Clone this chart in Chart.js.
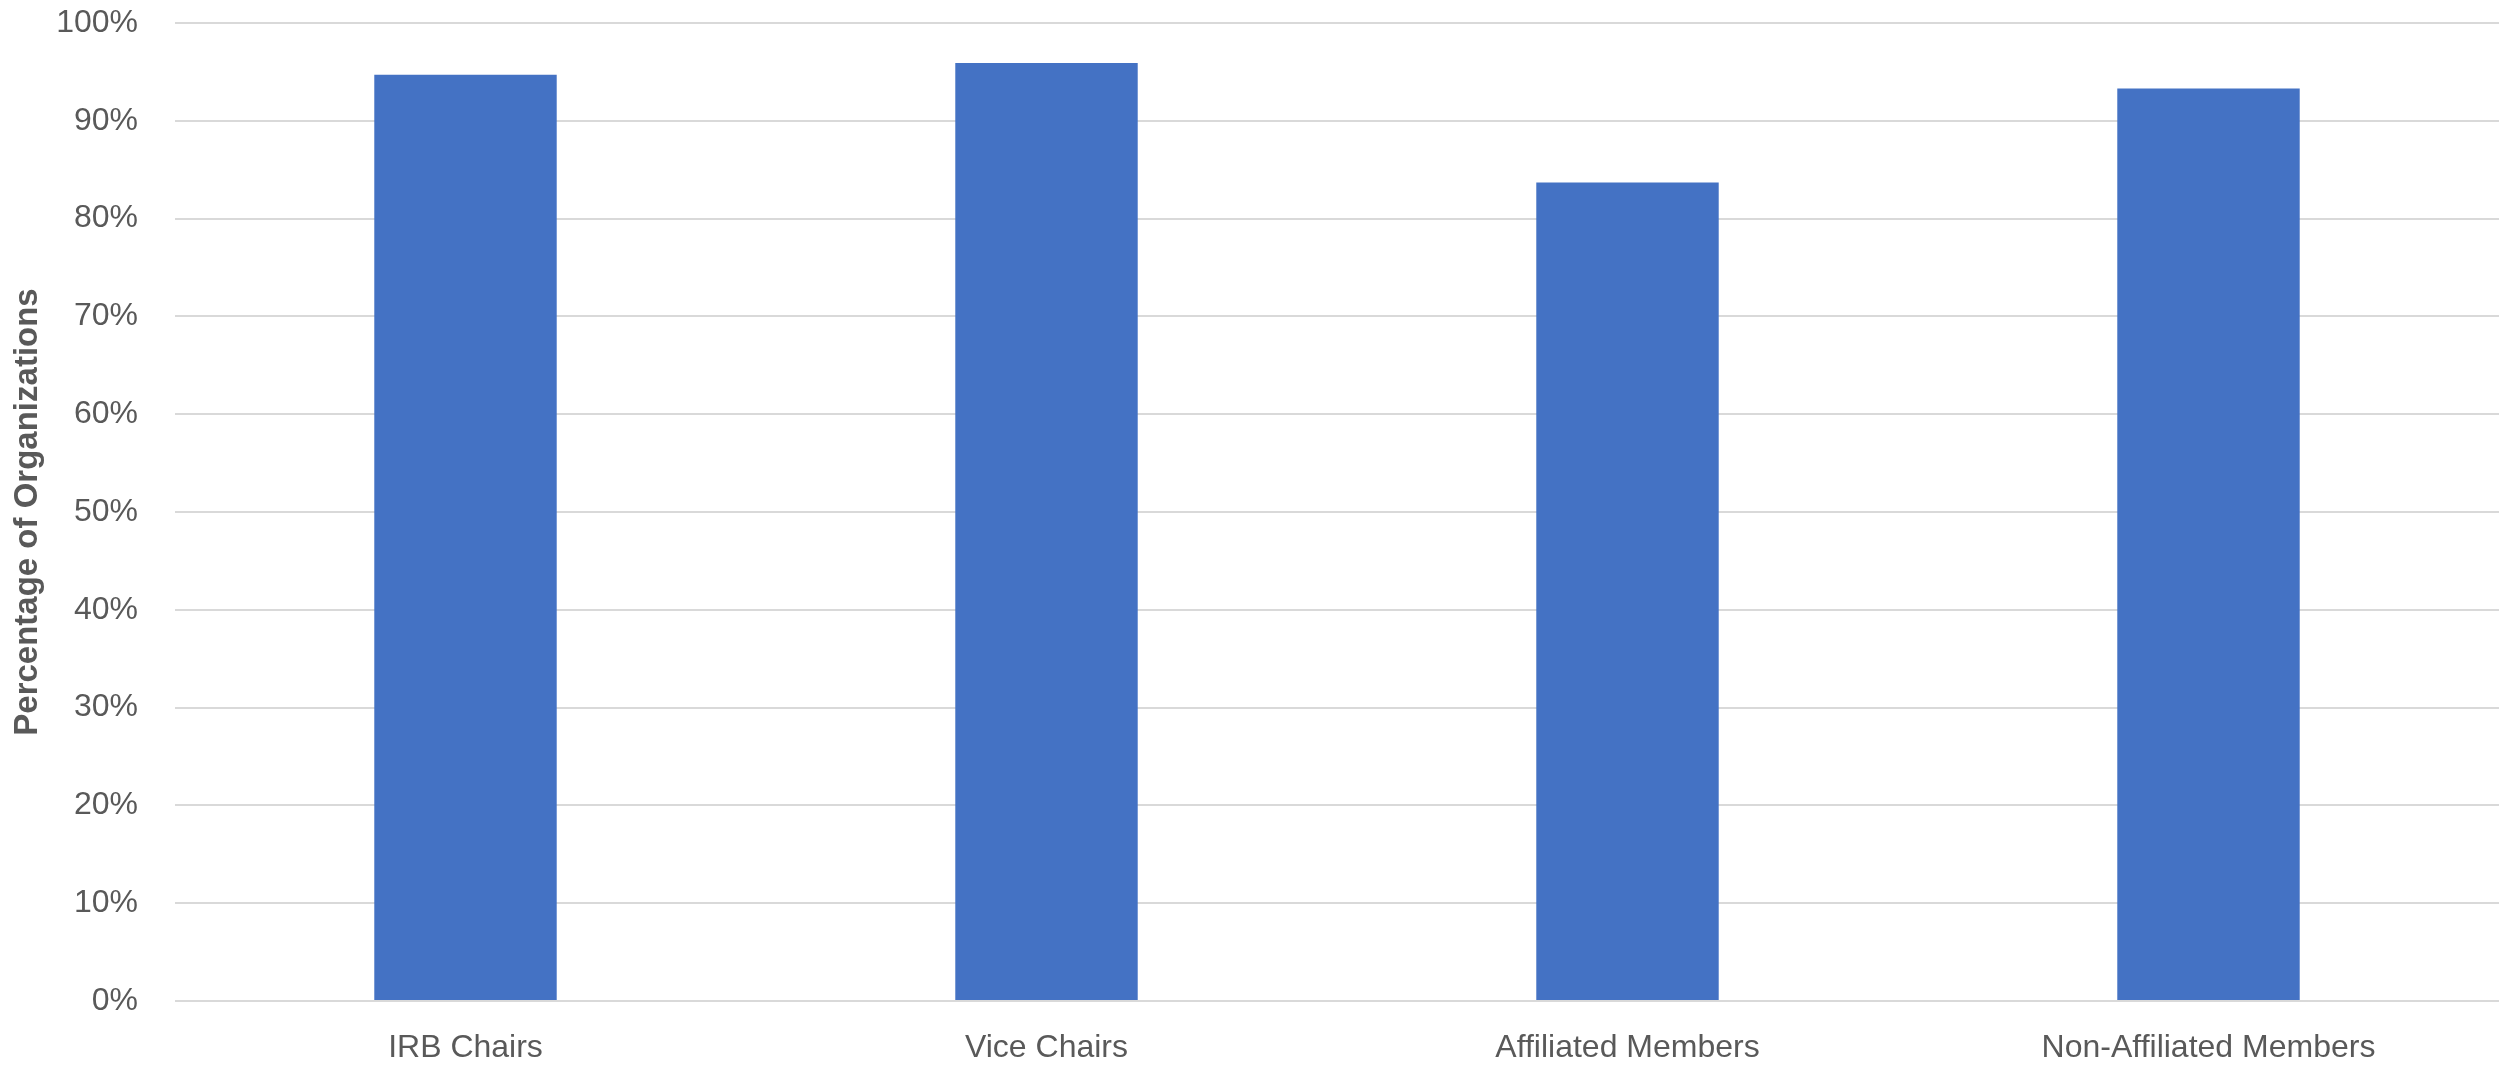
<!DOCTYPE html>
<html>
<head>
<meta charset="utf-8">
<script src="https://cdn.jsdelivr.net/npm/chart.js@4"></script>
<style>
  html, body { margin: 0; padding: 0; background: #ffffff; overflow: hidden; }
  #wrap { width: 2499px; height: 1066px; }
</style>
</head>
<body>
<div id="wrap"><canvas id="c" width="2499" height="1066"></canvas></div>
<script>
const categories = ["IRB Chairs", "Vice Chairs", "Affiliated Members", "Non-Affiliated Members"];
const percentValues = [94.7, 95.9, 83.7, 93.3];
const yTickValues = [0, 10, 20, 30, 40, 50, 60, 70, 80, 90, 100];
const yAxisTitle = "Percentage of Organizations";

const FONT = "'Liberation Sans', Arial, sans-serif";
const TEXT = "#595959";

new Chart(document.getElementById('c'), {
  type: 'bar',
  data: {
    labels: categories,
    datasets: [{
      data: percentValues,
      backgroundColor: '#4472C4',
      borderWidth: 0,
      categoryPercentage: 1.0,
      barPercentage: 0.314
    }]
  },
  options: {
    responsive: false,
    animation: false,
    devicePixelRatio: 1,
    layout: { padding: { top: 23, right: 0, bottom: 0, left: 0 } },
    plugins: { legend: { display: false }, tooltip: { enabled: false } },
    scales: {
      x: {
        grid: { display: false, drawTicks: false },
        border: { display: false },
        ticks: { color: TEXT, font: { family: FONT, size: 32 }, padding: 28, maxRotation: 0, autoSkip: false },
        afterFit: (s) => { s.height = 65; s.paddingLeft = 0; s.paddingRight = 0; }
      },
      y: {
        min: 0, max: 100,
        afterBuildTicks: (s) => { s.ticks = yTickValues.map(v => ({ value: v })); },
        grid: { color: '#D9D9D9', lineWidth: 2, drawTicks: false },
        border: { display: false },
        ticks: { color: TEXT, font: { family: FONT, size: 32 }, padding: 37, callback: (v) => v + '%' },
        title: { display: true, text: yAxisTitle, color: TEXT, font: { family: FONT, size: 33, weight: 'bold' }, padding: { top: 8, bottom: 0 } },
        afterFit: (s) => { s.width = 175; s.paddingTop = 0; s.paddingBottom = 0; }
      }
    }
  }
});
</script>
</body>
</html>
